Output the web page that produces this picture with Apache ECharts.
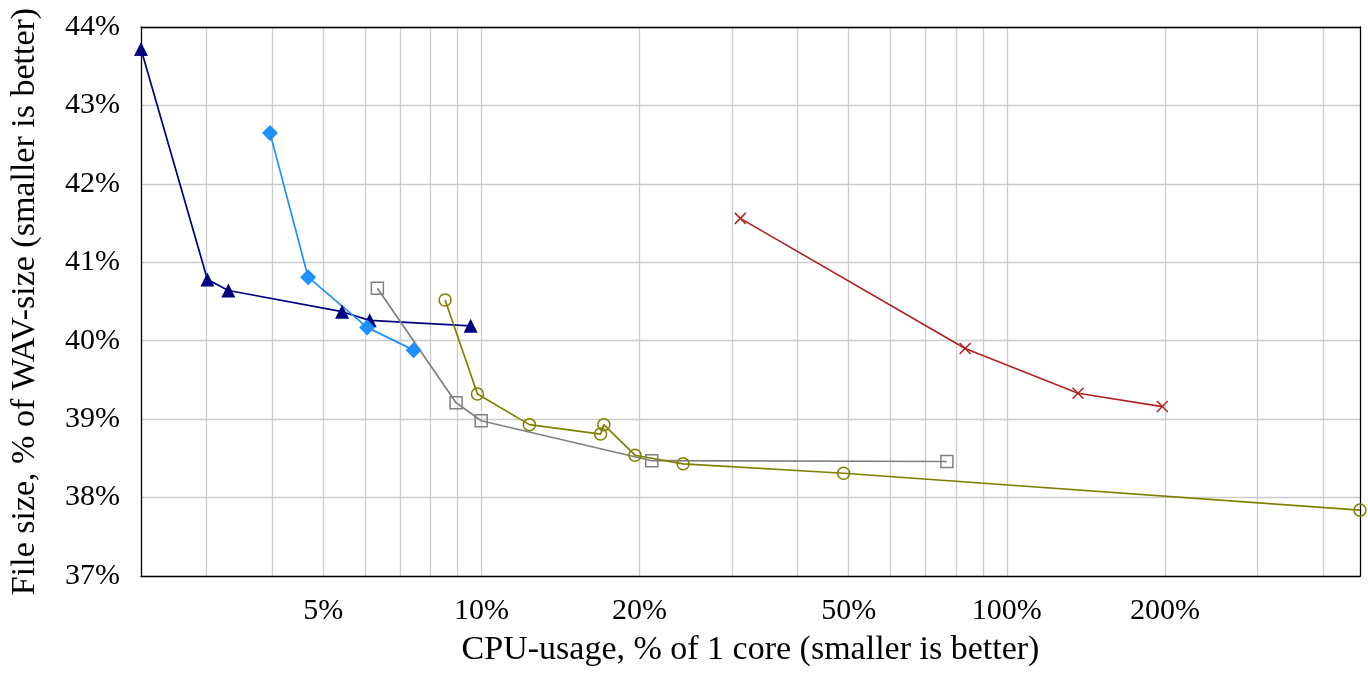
<!DOCTYPE html>
<html>
<head>
<meta charset="utf-8">
<script src="https://cdn.jsdelivr.net/npm/echarts@6/dist/echarts.min.js"></script>
<style>
  html, body { margin: 0; padding: 0; background: #ffffff; }
  #chart { width: 1368px; height: 675px; }
</style>
</head>
<body>
<div id="chart"></div>
<script>
// Axis ticks (CPU usage in % of one core, log scale; file size in % of WAV)
const xLabelValues = [5, 10, 20, 50, 100, 200];
const xGridValues = [3, 4, 5, 6, 7, 8, 9, 10, 20, 30, 40, 50, 60, 70, 80, 90, 100, 200, 300, 400];
const yMin = 37;
const yMax = 44;

// Encoder presets: CPU usage (%) and resulting file size (% of WAV)
const navyCpu  = [2.25, 3.01, 3.30, 5.43, 6.13, 9.54];
const navySize = [43.72, 40.78, 40.64, 40.37, 40.26, 40.19];

const blueCpu  = [3.96, 4.68, 6.06, 7.43];
const blueSize = [42.65, 40.81, 40.17, 39.88];

const grayCpu  = [6.34, 8.95, 9.99, 21.1, 76.9];
const graySize = [40.67, 39.21, 38.98, 38.47, 38.46];

const oliveCpu  = [8.53, 9.83, 12.34, 16.86, 17.1, 19.6, 24.2, 48.9, 470];
const oliveSize = [40.52, 39.32, 38.93, 38.81, 38.93, 38.54, 38.43, 38.31, 37.84];

const redCpu  = [31.1, 83.3, 136.6, 197.7];
const redSize = [41.56, 39.90, 39.33, 39.16];

const pairs = (xs, ys) => xs.map((x, i) => [x, ys[i]]);

const FONT = "'Liberation Serif', 'DejaVu Serif', serif";
const GRID_COLOR = '#cccccc';
const LINE_W = 1.7;

function lineSeries(name, data, color, symbol, size, hollow) {
  return {
    name: name,
    type: 'line',
    data: data,
    z: 3,
    clip: false,
    symbol: symbol,
    symbolSize: size,
    showSymbol: true,
    lineStyle: { color: color, width: LINE_W },
    itemStyle: hollow
      ? { color: 'rgba(0,0,0,0)', borderColor: color, borderWidth: 1.5 }
      : { color: color, borderWidth: 0 },
    emphasis: { disabled: true }
  };
}

const chart = echarts.init(document.getElementById('chart'), null, { renderer: 'canvas' });

chart.setOption({
  animation: false,
  backgroundColor: '#ffffff',
  textStyle: { fontFamily: FONT },
  grid: { left: 140, right: 8, top: 27, bottom: 99, containLabel: false },
  xAxis: [
    {
      type: 'log',
      logBase: 10,
      min: v => v.min,
      max: v => v.max,
      z: 5,
      axisLine: { show: true, onZero: false, lineStyle: { color: '#000', width: 1.3 } },
      axisTick: { show: false },
      splitLine: { show: false },
      axisLabel: {
        customValues: xLabelValues,
        formatter: v => Math.round(v) + '%',
        color: '#000',
        fontFamily: FONT,
        fontSize: 30,
        margin: 20
      },
      name: 'CPU-usage, % of 1 core (smaller is better)',
      nameLocation: 'middle',
      nameGap: 57,
      nameTextStyle: { color: '#000', fontFamily: FONT, fontSize: 34 }
    },
    {
      type: 'log',
      logBase: 10,
      position: 'top',
      min: v => v.min,
      max: v => v.max,
      z: 5,
      axisLine: { show: true, onZero: false, lineStyle: { color: '#000', width: 1.3 } },
      axisTick: { show: false },
      axisLabel: { show: false },
      splitLine: { show: false }
    }
  ],
  yAxis: [
    {
      type: 'value',
      min: yMin,
      max: yMax,
      interval: 1,
      axisLine: { show: true, onZero: false, lineStyle: { color: '#000', width: 1.3 } },
      axisTick: { show: false },
      splitLine: { show: true, lineStyle: { color: GRID_COLOR, width: 1.3 } },
      axisLabel: {
        formatter: '{value}%',
        color: '#000',
        fontFamily: FONT,
        fontSize: 30,
        margin: 21
      },
      name: 'File size, % of WAV-size (smaller is better)',
      nameLocation: 'middle',
      nameGap: 99,
      nameTextStyle: { color: '#000', fontFamily: FONT, fontSize: 34 }
    },
    {
      type: 'value',
      position: 'right',
      min: yMin,
      max: yMax,
      interval: 1,
      axisLine: { show: true, onZero: false, lineStyle: { color: '#000', width: 1.3 } },
      axisTick: { show: false },
      axisLabel: { show: false },
      splitLine: { show: false }
    }
  ],
  series: [
    {
      // vertical grid lines at every integer multiple of each decade
      name: 'grid',
      type: 'line',
      data: [],
      silent: true,
      z: 1,
      markLine: {
        z: 1,
        silent: true,
        symbol: ['none', 'none'],
        label: { show: false },
        lineStyle: { color: GRID_COLOR, width: 1.3, type: 'solid' },
        emphasis: { disabled: true },
        data: xGridValues.map(v => ({ xAxis: v }))
      }
    },
    lineSeries('navy', pairs(navyCpu, navySize), '#000080', 'triangle', 14, false),
    lineSeries('blue', pairs(blueCpu, blueSize), '#1e90ff', 'diamond', 16, false),
    lineSeries('gray', pairs(grayCpu, graySize), '#808080', 'rect', 12, true),
    lineSeries('olive', pairs(oliveCpu, oliveSize), '#808000', 'circle', 12, true),
    lineSeries('red', pairs(redCpu, redSize), '#b22222', 'path://M0,0L10,10M10,0L0,10', 11, true)
  ]
});
</script>
</body>
</html>
